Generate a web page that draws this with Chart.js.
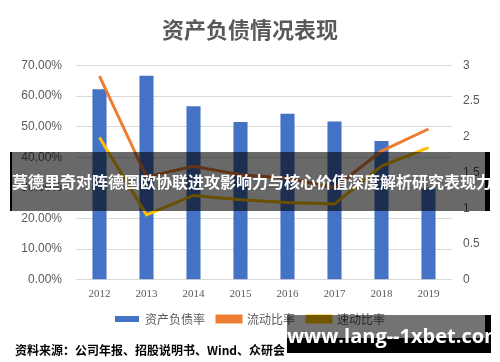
<!DOCTYPE html>
<html>
<head>
<meta charset="utf-8">
<script src="https://cdn.jsdelivr.net/npm/chart.js@4/dist/chart.umd.min.js"></script>
<style>
  html, body { margin: 0; padding: 0; background: #fff; }
  #wrap { position: relative; width: 500px; height: 362px; overflow: hidden; }
  #chart { position: absolute; left: 0; top: 0; }
  .source {
    position: absolute; left: 15px; top: 341px;
    font: bold 12px "Noto Sans CJK SC", sans-serif; color: #000;
  }
  .banner {
    position: absolute; left: 10px; top: 152px; width: 480px; height: 59px;
    box-sizing: border-box; background: rgba(0,0,0,0.59);
    border-left: 2px solid #000; border-right: 5px solid #000;
    color: #fff; font: bold 16px "Noto Sans CJK SC", sans-serif;
    line-height: 59px; white-space: nowrap; text-align: center;
  }
  .mark-bg { position: absolute; left: 287px; top: 315px; width: 198px; height: 23px; background: rgba(0,0,0,0.55); }
  .mark-sh1 { position: absolute; left: 287px; top: 338px; width: 204px; height: 15px; background: #000; }
  .mark-sh2 { position: absolute; left: 485px; top: 315px; width: 6px; height: 23px; background: #000; }
  .mark {
    position: absolute; left: 287px; top: 322px; width: 198px; text-align: center;
    color: #fff; font: bold 20px "Open Sans", sans-serif; white-space: nowrap;
  }
</style>
</head>
<body>
<div id="wrap">
  <canvas id="chart" width="500" height="362"></canvas>
  <div class="source">资料来源：公司年报、招股说明书、Wind、众研会</div>
  <div class="banner">莫德里奇对阵德国欧协联进攻影响力与核心价值深度解析研究表现力</div>
  <div class="mark-bg"></div>
  <div class="mark-sh1"></div>
  <div class="mark-sh2"></div>
  <div class="mark">www.lang--1xbet.com</div>
</div>
<script>
const years = ['2012', '2013', '2014', '2015', '2016', '2017', '2018', '2019'];
const debtRatio = [62.2, 66.6, 56.7, 51.5, 54.2, 51.7, 45.3, 29.8];
const currentRatio = [2.85, 1.44, 1.59, 1.47, 1.42, 1.29, 1.80, 2.11];
const quickRatio = [1.99, 0.91, 1.18, 1.12, 1.08, 1.06, 1.59, 1.85];

const grey = '#595959';

new Chart(document.getElementById('chart'), {
  data: {
    labels: years,
    datasets: [
      {
        type: 'bar',
        label: '资产负债率',
        data: debtRatio,
        yAxisID: 'y',
        backgroundColor: '#4472c4',
        borderWidth: 0,
        barPercentage: 0.6,
        categoryPercentage: 0.5,
        order: 3
      },
      {
        type: 'line',
        label: '流动比率',
        data: currentRatio,
        yAxisID: 'y1',
        borderColor: '#ed7d31',
        backgroundColor: '#ed7d31',
        borderWidth: 3,
        pointRadius: 0,
        tension: 0,
        order: 1
      },
      {
        type: 'line',
        label: '速动比率',
        data: quickRatio,
        yAxisID: 'y1',
        borderColor: '#ffc000',
        backgroundColor: '#ffc000',
        borderWidth: 3,
        pointRadius: 0,
        tension: 0,
        order: 2
      }
    ]
  },
  options: {
    responsive: false,
    animation: false,
    layout: { padding: { left: 0, right: 0, top: 0, bottom: 27 } },
    plugins: {
      title: {
        display: true,
        text: '资产负债情况表现',
        color: grey,
        font: { family: '"Noto Sans CJK SC", sans-serif', size: 22, weight: 'bold' },
        padding: { top: 16, bottom: 23 }
      },
      legend: {
        position: 'bottom',
        labels: {
          color: grey,
          font: { family: '"Noto Sans CJK SC", sans-serif', size: 12 },
          boxWidth: 24,
          boxHeight: 6,
          padding: 12,
          sort: (a, b) => a.datasetIndex - b.datasetIndex
        }
      },
      tooltip: { enabled: false }
    },
    scales: {
      x: {
        grid: { display: false },
        border: { display: false },
        ticks: { color: grey, font: { family: '"Liberation Serif", serif', size: 11 }, padding: 0 }
      },
      y: {
        position: 'left',
        min: 0,
        max: 70,
        afterFit: s => { s.width = 76; },
        grid: { color: '#d9d9d9', drawTicks: false },
        border: { display: false },
        ticks: {
          stepSize: 10,
          padding: 14,
          color: grey,
          font: { family: '"Liberation Sans", sans-serif', size: 12 },
          callback: v => v.toFixed(2) + '%'
        }
      },
      y1: {
        position: 'right',
        min: 0,
        max: 3,
        afterFit: s => { s.width = 48; },
        grid: { display: false, drawTicks: false },
        border: { display: false },
        ticks: {
          stepSize: 0.5,
          padding: 11,
          color: grey,
          font: { family: '"Liberation Sans", sans-serif', size: 12 },
          callback: v => String(v)
        }
      }
    }
  }
});
</script>
</body>
</html>
